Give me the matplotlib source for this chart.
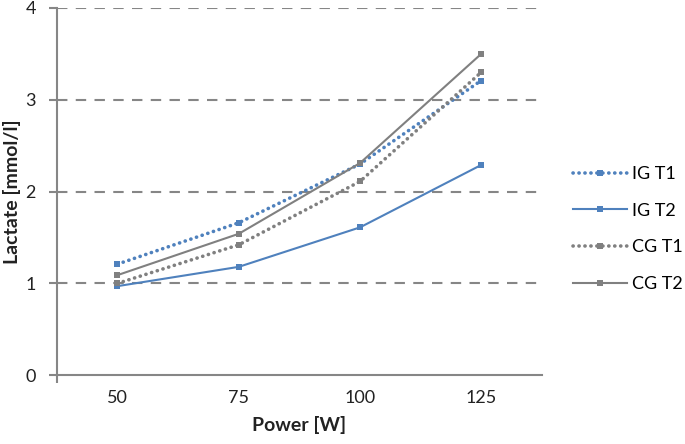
import matplotlib
matplotlib.use("Agg")
import matplotlib.pyplot as plt
from matplotlib.lines import Line2D

plt.rcParams['font.family'] = ['Lato', 'DejaVu Sans']

categories = ["50", "75", "100", "125"]
ig_t1 = [1.21, 1.66, 2.30, 3.21]
ig_t2 = [0.97, 1.18, 1.61, 2.29]
cg_t1 = [1.00, 1.42, 2.11, 3.30]
cg_t2 = [1.09, 1.54, 2.31, 3.50]
series_names = ["IG T1", "IG T2", "CG T1", "CG T2"]
y_ticks = [0, 1, 2, 3, 4]

blue = "#4F81BD"
gray = "#808080"

fig = plt.figure(figsize=(6.85, 4.44), dpi=100)
ax = fig.add_axes([0.083, 0.155, 0.708, 0.827])

x = list(range(len(categories)))
dot = (0, (0.05, 1.6))
styles = [
    (ig_t1, blue, dot, 2.6),
    (ig_t2, blue, '-', 1.5),
    (cg_t1, gray, dot, 2.6),
    (cg_t2, gray, '-', 1.5),
]
handles = []
for (vals, c, ls, lw), name in zip(styles, series_names):
    ax.plot(x, vals, color=c, linestyle=ls, linewidth=lw, marker='s',
            markersize=4, markeredgewidth=0, zorder=3,
            dash_capstyle='round')
    handles.append(Line2D([], [], color=c, linestyle=ls, linewidth=lw,
                          marker='s', markersize=4, markeredgewidth=0,
                          dash_capstyle='round'))

ax.set_xlim(-0.5, len(categories) - 0.5)
ax.set_ylim(0, 4)
ax.set_yticks(y_ticks)
ax.set_xticks(x)
ax.set_xticklabels(categories)
ax.tick_params(axis='x', length=0, labelsize=13, pad=11, colors='#222222')
ax.tick_params(axis='y', length=6, width=1.5, color='#868686', labelsize=13,
               pad=9, direction='out', labelcolor='#222222')
ax.set_xticks([-0.5], minor=True)
ax.tick_params(axis='x', which='minor', length=6, width=1.5, color='#868686', direction='out')

for yv in y_ticks[1:]:
    ax.axhline(yv, color='#868686', linestyle=(0, (5, 4)), linewidth=1.5, zorder=1)

for s in ['top', 'right']:
    ax.spines[s].set_visible(False)
for s in ['left', 'bottom']:
    ax.spines[s].set_color('#868686')
    ax.spines[s].set_linewidth(1.5)

ax.set_xlabel("Power [W]", fontsize=14, fontweight='bold', labelpad=7, color='#222222')
ax.set_ylabel("Lactate [mmol/l]", fontsize=14, fontweight='bold', labelpad=3, color='#222222')

fig.legend(handles, series_names, loc='center left', bbox_to_anchor=(0.836, 0.484),
           frameon=False, fontsize=13, handlelength=3.0, labelspacing=1.15,
           handletextpad=0.3, borderpad=0, borderaxespad=0)

fig.savefig("out.png", dpi=100)
